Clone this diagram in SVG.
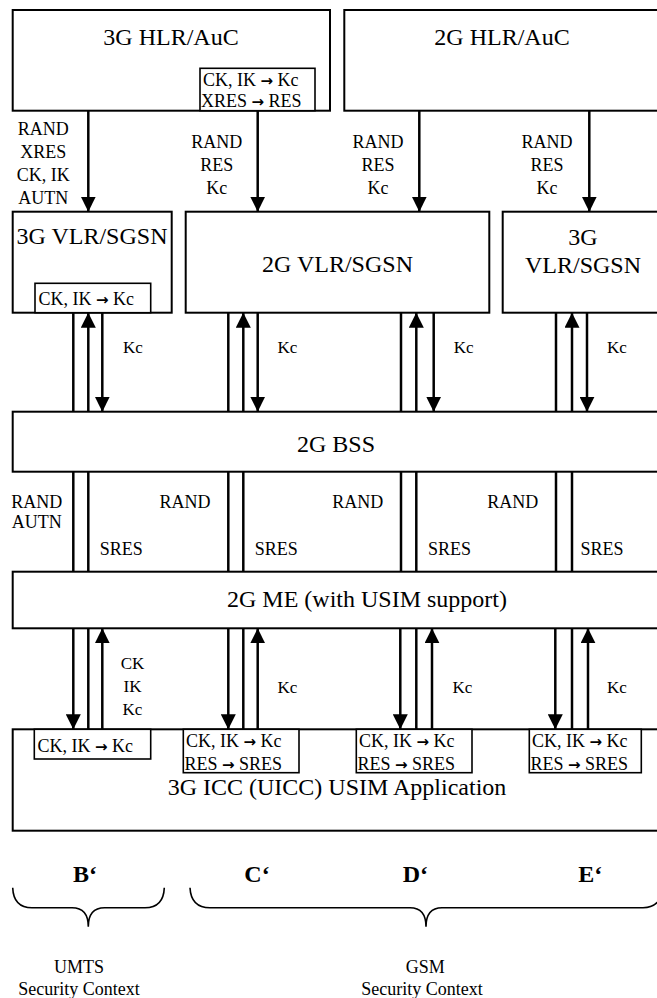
<svg xmlns="http://www.w3.org/2000/svg" width="657" height="998" viewBox="0 0 657 998">
<style>
.box{fill:#fff;stroke:#000;stroke-width:2}
.ib{fill:#fff;stroke:#000;stroke-width:1.6}
.t{font-family:"Liberation Serif","Times New Roman",serif;fill:#000;text-anchor:middle}
.tt{font-size:24px}
.lb{font-size:18px}
.kc{font-size:17px}
.ibt{font-size:18px;text-anchor:start}
.arw{font-family:"DejaVu Sans",sans-serif;font-weight:bold;font-size:15px}
.br{font-size:24px;font-weight:bold}
.ln{stroke:#000;stroke-width:2.5;fill:none}
.ar{stroke:#000;stroke-width:2.5;fill:none;marker-end:url(#ah)}
.brace{stroke:#000;stroke-width:1.6;fill:none}
</style>
<defs>
<marker id="ah" markerWidth="15" markerHeight="15" viewBox="0 0 15 15" refX="15" refY="7.5" orient="auto" markerUnits="userSpaceOnUse">
<path d="M0,0 L15,7.5 L0,15 z" fill="#000"/>
</marker>
</defs>
<rect width="657" height="998" fill="#fff"/>

<g id="hlr3g">
<rect class="box" x="12.7" y="10" width="317.3" height="100.7"/>
<text class="t tt" x="171" y="45">3G HLR/AuC</text>
<rect class="ib" x="200" y="68.3" width="115" height="42.4"/>
<text class="t ibt" x="203" y="86">CK, IK <tspan class="arw">→</tspan> Kc</text>
<text class="t ibt" x="201" y="106.5">XRES <tspan class="arw">→</tspan> RES</text>
</g>

<g id="hlr2g">
<rect class="box" x="344.3" y="10" width="320" height="100.7"/>
<text class="t tt" x="502" y="45">2G HLR/AuC</text>
</g>

<g id="vlr3g-left">
<rect class="box" x="12.7" y="211.7" width="159" height="101"/>
<text class="t tt" x="92" y="244.3">3G VLR/SGSN</text>
<rect class="ib" x="35" y="283.3" width="115.7" height="29.4"/>
<text class="t ibt" x="38.5" y="305">CK, IK <tspan class="arw">→</tspan> Kc</text>
</g>

<g id="vlr2g">
<rect class="box" x="185.7" y="211.7" width="303.6" height="101"/>
<text class="t tt" x="337.5" y="271.7">2G VLR/SGSN</text>
</g>

<g id="vlr3g-right">
<rect class="box" x="502.7" y="211.7" width="160" height="101"/>
<text class="t tt" x="583" y="245">3G</text>
<text class="t tt" x="583" y="272.7">VLR/SGSN</text>
</g>

<g id="bss">
<rect class="box" x="12.7" y="411.7" width="650" height="60"/>
<text class="t tt" x="336" y="451.7">2G BSS</text>
</g>

<g id="me">
<rect class="box" x="12.7" y="571.7" width="650" height="56.6"/>
<text class="t tt" x="367" y="606.7">2G ME (with USIM support)</text>
</g>

<g id="icc">
<rect class="box" x="12.7" y="729.3" width="650" height="101.4"/>
<text class="t tt" x="337" y="795">3G ICC (UICC) USIM Application</text>
<rect class="ib" x="34.3" y="729.3" width="116.4" height="29.7"/>
<text class="t ibt" x="37.5" y="751.7">CK, IK <tspan class="arw">→</tspan> Kc</text>
<rect class="ib" x="183.3" y="729.3" width="115.7" height="43.4"/>
<text class="t ibt" x="186" y="747.3">CK, IK <tspan class="arw">→</tspan> Kc</text>
<text class="t ibt" x="184.5" y="770">RES <tspan class="arw">→</tspan> SRES</text>
<rect class="ib" x="356.3" y="729.3" width="115.7" height="43.4"/>
<text class="t ibt" x="359" y="747.3">CK, IK <tspan class="arw">→</tspan> Kc</text>
<text class="t ibt" x="357.5" y="770">RES <tspan class="arw">→</tspan> SRES</text>
<rect class="ib" x="529.3" y="729.3" width="112" height="43.4"/>
<text class="t ibt" x="532" y="747.3">CK, IK <tspan class="arw">→</tspan> Kc</text>
<text class="t ibt" x="530.5" y="770">RES <tspan class="arw">→</tspan> SRES</text>
</g>

<g id="connectors">
<line class="ar" x1="88.3" y1="110.7" x2="88.3" y2="211.7"/>
<line class="ar" x1="257.7" y1="110.7" x2="257.7" y2="211.7"/>
<line class="ar" x1="419.3" y1="110.7" x2="419.3" y2="211.7"/>
<line class="ar" x1="589.3" y1="110.7" x2="589.3" y2="211.7"/>
<line class="ln" x1="73.3" y1="312.7" x2="73.3" y2="411.7"/>
<line class="ar" x1="88.3" y1="411.7" x2="88.3" y2="312.7"/>
<line class="ar" x1="102.3" y1="312.7" x2="102.3" y2="411.7"/>
<line class="ln" x1="228.3" y1="312.7" x2="228.3" y2="411.7"/>
<line class="ar" x1="243.3" y1="411.7" x2="243.3" y2="312.7"/>
<line class="ar" x1="257.7" y1="312.7" x2="257.7" y2="411.7"/>
<line class="ln" x1="401" y1="312.7" x2="401" y2="411.7"/>
<line class="ar" x1="416.3" y1="411.7" x2="416.3" y2="312.7"/>
<line class="ar" x1="433.7" y1="312.7" x2="433.7" y2="411.7"/>
<line class="ln" x1="556" y1="312.7" x2="556" y2="411.7"/>
<line class="ar" x1="572" y1="411.7" x2="572" y2="312.7"/>
<line class="ar" x1="587" y1="312.7" x2="587" y2="411.7"/>
<line class="ln" x1="73.3" y1="471.7" x2="73.3" y2="571.7"/>
<line class="ln" x1="88.3" y1="471.7" x2="88.3" y2="571.7"/>
<line class="ln" x1="228.3" y1="471.7" x2="228.3" y2="571.7"/>
<line class="ln" x1="243.3" y1="471.7" x2="243.3" y2="571.7"/>
<line class="ln" x1="401" y1="471.7" x2="401" y2="571.7"/>
<line class="ln" x1="416.3" y1="471.7" x2="416.3" y2="571.7"/>
<line class="ln" x1="556" y1="471.7" x2="556" y2="571.7"/>
<line class="ln" x1="572" y1="471.7" x2="572" y2="571.7"/>
<line class="ar" x1="73.3" y1="628.3" x2="73.3" y2="729.3"/>
<line class="ln" x1="88.3" y1="628.3" x2="88.3" y2="729.3"/>
<line class="ar" x1="102.3" y1="729.3" x2="102.3" y2="628.3"/>
<line class="ar" x1="228.3" y1="628.3" x2="228.3" y2="729.3"/>
<line class="ln" x1="243.3" y1="628.3" x2="243.3" y2="729.3"/>
<line class="ar" x1="257.7" y1="729.3" x2="257.7" y2="628.3"/>
<line class="ar" x1="400.3" y1="628.3" x2="400.3" y2="729.3"/>
<line class="ln" x1="416.3" y1="628.3" x2="416.3" y2="729.3"/>
<line class="ar" x1="432" y1="729.3" x2="432" y2="628.3"/>
<line class="ar" x1="555.3" y1="628.3" x2="555.3" y2="729.3"/>
<line class="ln" x1="572" y1="628.3" x2="572" y2="729.3"/>
<line class="ar" x1="588" y1="729.3" x2="588" y2="628.3"/>
</g>

<g id="labels">
<text class="t lb" x="43.3" y="135">RAND</text>
<text class="t lb" x="43.3" y="158">XRES</text>
<text class="t lb" x="43.3" y="181">CK, IK</text>
<text class="t lb" x="43.3" y="203.5">AUTN</text>
<text class="t lb" x="216.7" y="148.3">RAND</text>
<text class="t lb" x="216.7" y="171">RES</text>
<text class="t lb" x="216.7" y="193.5">Kc</text>
<text class="t lb" x="378" y="148.3">RAND</text>
<text class="t lb" x="378" y="171">RES</text>
<text class="t lb" x="378" y="193.5">Kc</text>
<text class="t lb" x="547" y="148.3">RAND</text>
<text class="t lb" x="547" y="171">RES</text>
<text class="t lb" x="547" y="193.5">Kc</text>
<text class="t kc" x="133" y="353.3">Kc</text>
<text class="t kc" x="287.3" y="353.3">Kc</text>
<text class="t kc" x="463.7" y="353.3">Kc</text>
<text class="t kc" x="617" y="353.3">Kc</text>
<text class="t lb" x="36.7" y="508.3">RAND</text>
<text class="t lb" x="36.7" y="528.3">AUTN</text>
<text class="t lb" x="185" y="508.3">RAND</text>
<text class="t lb" x="357.8" y="508.3">RAND</text>
<text class="t lb" x="512.8" y="508.3">RAND</text>
<text class="t lb" x="121.3" y="555">SRES</text>
<text class="t lb" x="276.3" y="555">SRES</text>
<text class="t lb" x="449.5" y="555">SRES</text>
<text class="t lb" x="602" y="555">SRES</text>
<text class="t kc" x="132.5" y="669">CK</text>
<text class="t kc" x="132.5" y="692">IK</text>
<text class="t kc" x="132.5" y="715">Kc</text>
<text class="t kc" x="287.3" y="693">Kc</text>
<text class="t kc" x="462.3" y="693">Kc</text>
<text class="t kc" x="617" y="693">Kc</text>
</g>

<g id="contexts">
<text class="t br" x="85" y="881.7">B‘</text>
<text class="t br" x="257" y="881.7">C‘</text>
<text class="t br" x="415.3" y="881.7">D‘</text>
<text class="t br" x="590.3" y="881.7">E‘</text>
<path class="brace" d="M12.7,887.7 Q13.5,907.7 32,907.7 L72,907.7 Q88.3,907.7 88.3,926.7 Q88.3,907.7 104.6,907.7 L145,907.7 Q163.5,907.7 164.3,887.7"/>
<path class="brace" d="M190,887.7 Q191,907.7 210,907.7 L410,907.7 Q426,907.7 426,926.7 Q426,907.7 442,907.7 L643,907.7 Q657,907.7 662,895"/>
<text class="t lb" x="79" y="973.3">UMTS</text>
<text class="t lb" x="79" y="995">Security Context</text>
<text class="t lb" x="425.3" y="973.3">GSM</text>
<text class="t lb" x="422" y="995">Security Context</text>
</g>
</svg>
